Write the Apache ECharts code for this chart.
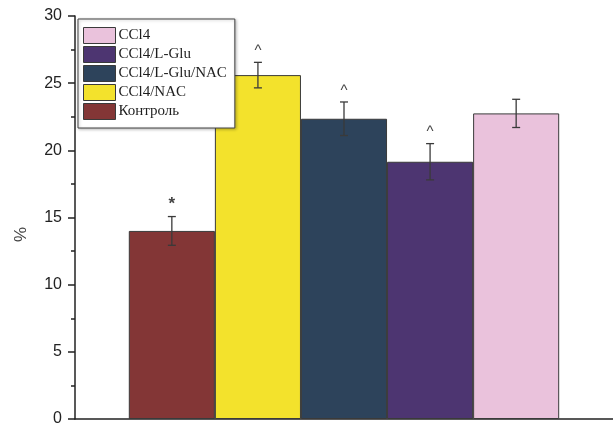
<!DOCTYPE html>
<html>
<head>
<meta charset="utf-8">
<script src="https://cdn.jsdelivr.net/npm/echarts@6/dist/echarts.min.js"></script>
<style>
  html, body { margin: 0; padding: 0; background: #ffffff; }
  #chart { width: 613px; height: 427px; }
</style>
</head>
<body>
<div id="chart"></div>
<script>
// Groups in plotting order (left to right)
const groups = ['Контроль', 'CCl4/NAC', 'CCl4/L-Glu/NAC', 'CCl4/L-Glu', 'CCl4'];
// Mean values, %
const means = [14.0, 25.6, 22.35, 19.15, 22.75];
// Error (± half-range)
const errors = [1.07, 0.95, 1.25, 1.35, 1.05];
// Significance marks above the error bars
const marks = ['*', '^', '^', '^', ''];
// Legend order
const legendOrder = ['CCl4', 'CCl4/L-Glu', 'CCl4/L-Glu/NAC', 'CCl4/NAC', 'Контроль'];
const colors = ['#833636', '#f3e22c', '#2d435b', '#4d3571', '#eac2dc'];
const yTicks = [0, 5, 10, 15, 20, 25, 30];

const categoryGap = 0.2;

const barSeries = groups.map((name, i) => ({
  name: name,
  type: 'bar',
  data: [means[i]],
  barGap: '0%',
  barCategoryGap: (categoryGap * 100) + '%',
  itemStyle: { color: colors[i], borderColor: '#3a3a3a', borderWidth: 1 },
  emphasis: { disabled: true }
}));

const errData = groups.map((g, i) => [0, i, means[i], errors[i], marks[i]]);

const errSeries = {
  type: 'custom',
  name: 'err',
  z: 5,
  data: errData,
  encode: { x: 0, y: 2 },
  renderItem: function (params, api) {
    const idx = api.value(1);
    const mean = api.value(2);
    const err = api.value(3);
    const mark = errData[params.dataIndex][4];
    const band = api.size([1, 0])[0];
    const barW = band * (1 - categoryGap) / groups.length;
    const center = api.coord([0, mean]);
    const x = center[0] + (idx - (groups.length - 1) / 2) * barW;
    const top = api.coord([0, mean + err])[1];
    const bot = api.coord([0, mean - err])[1];
    const cap = 4;
    const style = { stroke: '#3a3a3a', lineWidth: 1.3 };
    const children = [
      { type: 'line', shape: { x1: x, y1: top, x2: x, y2: bot }, style: style },
      { type: 'line', shape: { x1: x - cap, y1: top, x2: x + cap, y2: top }, style: style },
      { type: 'line', shape: { x1: x - cap, y1: bot, x2: x + cap, y2: bot }, style: style }
    ];
    if (mark) {
      children.push({
        type: 'text',
        x: x,
        y: top - 4,
        style: {
          text: mark,
          fill: '#444',
          font: mark === '*' ? 'bold 17px "Liberation Sans", Arial, sans-serif' : '15px "Liberation Sans", Arial, sans-serif',
          align: 'center',
          verticalAlign: 'bottom'
        }
      });
    }
    return { type: 'group', children: children };
  }
};

const chart = echarts.init(document.getElementById('chart'), null, { renderer: 'canvas' });
chart.setOption({
  backgroundColor: '#ffffff',
  animation: false,
  grid: { left: 75, right: -4, top: 16, bottom: 8, containLabel: false },
  legend: {
    data: legendOrder,
    orient: 'vertical',
    left: 78,
    top: 19,
    icon: 'rect',
    itemWidth: 32,
    itemHeight: 16,
    itemGap: 2,
    padding: [8, 8, 8, 5],
    backgroundColor: '#ffffff',
    borderColor: '#444',
    borderWidth: 1,
    shadowColor: 'rgba(0,0,0,0.25)',
    shadowBlur: 3,
    shadowOffsetX: 1,
    shadowOffsetY: 1,
    selectedMode: false,
    itemStyle: { borderColor: '#3a3a3a', borderWidth: 1 },
    textStyle: {
      fontFamily: '"Liberation Serif", "Times New Roman", serif',
      fontSize: 15,
      lineHeight: 16,
      color: '#1e1e1e',
      padding: [0, 0, 0, -2]
    }
  },
  xAxis: {
    type: 'category',
    data: [''],
    axisLine: { lineStyle: { color: '#222', width: 1.5 } },
    axisTick: { alignWithLabel: true, length: 7, lineStyle: { color: '#222', width: 1.5 } },
    axisLabel: { show: false },
    splitLine: { show: false }
  },
  yAxis: {
    type: 'value',
    min: yTicks[0],
    max: yTicks[yTicks.length - 1],
    interval: 5,
    name: '%',
    nameLocation: 'middle',
    nameGap: 45,
    nameTextStyle: {
      fontFamily: '"Liberation Sans", Arial, sans-serif',
      fontSize: 17,
      color: '#444',
      padding: [0, 34, 0, 0]
    },
    axisLine: { show: true, lineStyle: { color: '#222', width: 1.5 } },
    axisTick: { show: true, length: 7, lineStyle: { color: '#222', width: 1.5 } },
    minorTick: { show: true, splitNumber: 2, length: 4, lineStyle: { color: '#222', width: 1.5 } },
    axisLabel: {
      margin: 13,
      fontFamily: '"Liberation Sans", Arial, sans-serif',
      fontSize: 16,
      color: '#222'
    },
    splitLine: { show: false }
  },
  series: barSeries.concat([errSeries])
});
</script>
</body>
</html>
